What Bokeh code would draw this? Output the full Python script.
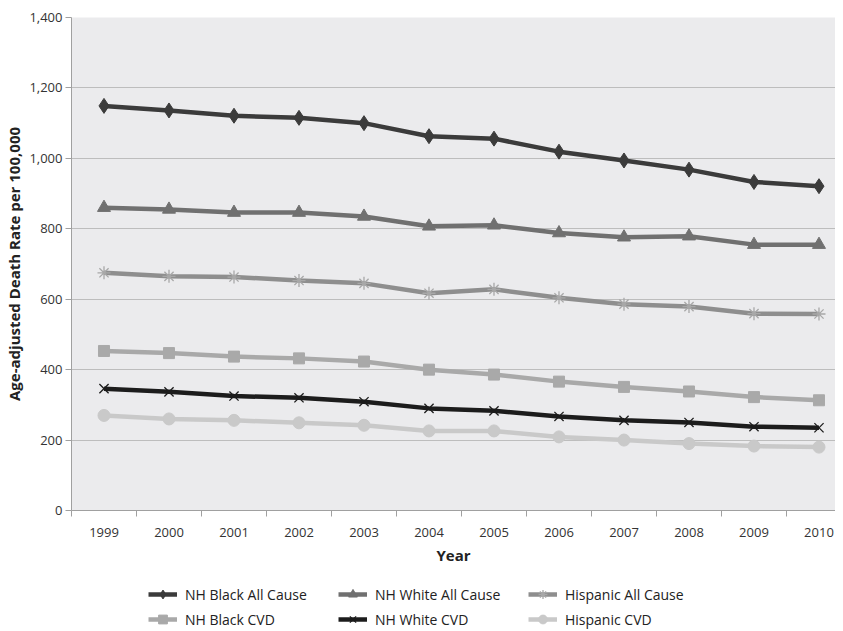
from bokeh.plotting import figure
from bokeh.layouts import column
from bokeh.models import (Range1d, FixedTicker, NumeralTickFormatter, Legend, LegendItem,
                          ColumnDataSource)
from bokeh.embed import file_html
from bokeh.resources import INLINE

years = [1999, 2000, 2001, 2002, 2003, 2004, 2005, 2006, 2007, 2008, 2009, 2010]
nh_black_all = [1149, 1136, 1121, 1115, 1100, 1063, 1056, 1019, 994, 968, 933, 921]
nh_white_all = [860, 855, 846, 846, 835, 807, 810, 788, 776, 779, 755, 755]
hisp_all = [675, 665, 663, 653, 645, 617, 628, 604, 586, 579, 559, 558]
nh_black_cvd = [453, 447, 437, 432, 423, 400, 386, 366, 351, 338, 322, 313]
nh_white_cvd = [346, 337, 325, 320, 309, 290, 283, 267, 256, 250, 238, 235]
hisp_cvd = [270, 260, 256, 249, 242, 226, 226, 209, 200, 190, 183, 180]

series = [
    ("NH Black All Cause", nh_black_all, "#3b3b3b", "diamond", 15, "#3b3b3b"),
    ("NH White All Cause", nh_white_all, "#707070", "triangle", 13, "#707070"),
    ("Hispanic All Cause", hisp_all, "#8e8e8e", "asterisk", 13, "#a8a8a8"),
    ("NH Black CVD", nh_black_cvd, "#a9a9a9", "square", 11, "#a9a9a9"),
    ("NH White CVD", nh_white_cvd, "#1c1c1c", "x", 13, "#1c1c1c"),
    ("Hispanic CVD", hisp_cvd, "#c9c9c9", "circle", 12, "#c9c9c9"),
]

p = figure(width=835, height=575, output_backend="svg", toolbar_location=None,
           x_range=Range1d(1998.5, 2010.254), y_range=Range1d(0, 1400),
           min_border_left=71, min_border_right=0, min_border_top=17, min_border_bottom=65)
p.outline_line_color = None
p.background_fill_color = "#ebebed"
p.border_fill_color = "white"

p.xaxis.ticker = FixedTicker(ticks=years, minor_ticks=[y - 0.5 for y in years] + [2010.5])
p.xaxis.major_tick_line_color = None
p.xaxis.minor_tick_line_color = "#a0a0a0"
p.xaxis.minor_tick_out = 6
p.xaxis.minor_tick_in = 0
p.xaxis.major_label_standoff = 11
p.xaxis.axis_label = "Year"
p.xaxis.axis_label_standoff = 5

p.yaxis.ticker = FixedTicker(ticks=[0, 200, 400, 600, 800, 1000, 1200, 1400])
p.yaxis.formatter = NumeralTickFormatter(format="0,0")
p.yaxis.major_tick_out = 6
p.yaxis.major_tick_in = 0
p.yaxis.minor_tick_line_color = None
p.yaxis.major_tick_line_color = "#a0a0a0"
p.yaxis.major_label_standoff = 3
p.yaxis.axis_label = "Age-adjusted Death Rate per 100,000"
p.yaxis.axis_label_standoff = 2

for ax in (p.xaxis, p.yaxis):
    ax.axis_line_color = "#a0a0a0"
    ax.major_label_text_font = "Open Sans"
    ax.major_label_text_font_size = "13px"
    ax.major_label_text_color = "#333333"
    ax.axis_label_text_font = "Open Sans"
    ax.axis_label_text_font_style = "bold"
    ax.axis_label_text_font_size = "15px"
    ax.axis_label_text_color = "#222222"

p.xgrid.grid_line_color = None
p.ygrid.grid_line_color = "#bdbdbd"
p.ygrid.grid_line_width = 1

# legend strip below the chart (its renderers' data lie outside its view)
lf = figure(width=835, height=56, output_backend="svg", toolbar_location=None,
            x_axis_type=None, y_axis_type=None, x_range=Range1d(0, 1), y_range=Range1d(0, 1),
            min_border=0)
lf.outline_line_color = None
lf.grid.visible = False

def add_series(fig, xs, vals, col, marker, size, mcol):
    src = ColumnDataSource(dict(x=xs, y=vals))
    r1 = fig.line("x", "y", source=src, line_color=col, line_width=4.5)
    if marker in ("asterisk", "x"):
        r2 = fig.scatter("x", "y", source=src, marker=marker, size=size, line_color=mcol,
                         line_width=1.3, fill_color=None)
    else:
        r2 = fig.scatter("x", "y", source=src, marker=marker, size=size, line_color=mcol,
                         fill_color=mcol)
    return r1, r2

items = []
for name, vals, col, marker, size, mcol in series:
    add_series(p, years, vals, col, marker, size, mcol)
    r1, r2 = add_series(lf, years, vals, col, marker, size, mcol)
    items.append(LegendItem(label=name, renderers=[r1, r2]))

for row, ypos in ((items[:3], 26), (items[3:], 1)):
    lg = Legend(items=row, location=(77, ypos), orientation="horizontal",
                padding=0, margin=0, spacing=3, glyph_width=29, glyph_height=22,
                label_height=22, label_width=150, label_standoff=8,
                label_text_font="Open Sans", label_text_font_size="14px",
                label_text_color="#222222",
                border_line_color=None, background_fill_alpha=0)
    lf.add_layout(lg, "center")

layout = column(p, lf, spacing=0)
open("out.html", "w").write(file_html(layout, INLINE))
